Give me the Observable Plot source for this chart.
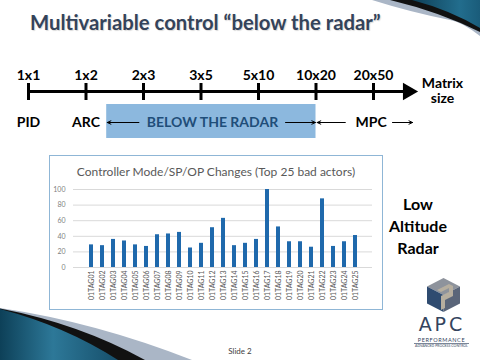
<!DOCTYPE html>
<html>
<head>
<meta charset="utf-8">
<script src="https://cdn.jsdelivr.net/npm/d3@7"></script>
<script src="https://cdn.jsdelivr.net/npm/@observablehq/plot@0.6"></script>
<style>
  html, body { margin: 0; padding: 0; background: #fff; }
  #slide { position: relative; width: 480px; height: 360px; overflow: hidden; background: #fff; font-family: Lato, "Open Sans", sans-serif; }
  .abs { position: absolute; }
</style>
</head>
<body>
<div id="slide">
  <svg class="abs" style="left:0;top:0" width="480" height="360">
    <defs>
      <linearGradient id="tealTR" x1="0" y1="0" x2="1" y2="0">
        <stop offset="0" stop-color="#0e3f57"/>
        <stop offset="0.7" stop-color="#226d8d"/>
        <stop offset="1" stop-color="#1a5c7a"/>
      </linearGradient>
      <linearGradient id="tealBL" x1="0" y1="0" x2="1" y2="0">
        <stop offset="0" stop-color="#0d4058"/>
        <stop offset="0.45" stop-color="#2d7898"/>
        <stop offset="1" stop-color="#164f6b"/>
      </linearGradient>
    </defs>
    <path d="M372,0 L480,0 L480,36 Q462,22 450,20 Q410,12 372,0 Z" fill="#aab6c6"/>
    <path d="M390,0 L480,0 L480,32 Q440,12 390,0 Z" fill="#111"/>
    <path d="M412,0 L480,0 L480,28 Q450,10 412,0 Z" fill="url(#tealTR)"/>
    <path d="M0,308 Q95,322 192,360 L0,360 Z" fill="#aab6c6"/>
    <path d="M0,308.5 Q80,324 145,360 L0,360 Z" fill="#111"/>
    <path d="M0,309 Q65,326 118,360 L0,360 Z" fill="url(#tealBL)"/>
  </svg>

  <div class="abs" id="title" style="left:30px;top:10px;font-size:20.3px;font-weight:700;color:#34435a;white-space:nowrap;text-shadow:1px 1px 1px rgba(0,0,0,0.15)">Multivariable control “below the radar”</div>

  <div class="abs" id="timeline" style="left:0;top:55px"></div>

  <div class="abs" style="left:49px;top:155px;width:334px;height:155px;box-sizing:border-box;border:1.5px solid #8fb6d6"></div>
  <div class="abs" style="left:49px;top:164px;width:334px;text-align:center;font-size:12px;color:#595959;white-space:nowrap">Controller Mode/SP/OP Changes (Top 25 bad actors)</div>
  <div class="abs" id="chart" style="left:49px;top:180px"></div>

  <div class="abs" style="left:368px;top:193px;width:100px;text-align:center;font-size:16px;font-weight:700;line-height:22px;color:#000">Low<br>Altitude<br>Radar</div>

  <svg class="abs" style="left:427px;top:278px" width="34" height="35">
    <polygon points="16.5,0 33,8.5 16.5,17 0,8.5" fill="#8e939c"/>
    <polygon points="0,8.5 16.5,17 16.5,34 0,25.5" fill="#2f4b70"/>
    <polygon points="16.5,17 33,8.5 33,25.5 16.5,34" fill="#5a6579"/>
    <path d="M10,12 L22,6 L26,8 L26,18 L18,22 L18,30 L14,32 L14,18 L22,14 L22,10 L14,14 Z" fill="#b6ae9f"/>
  </svg>
  <div class="abs" style="left:406px;top:316px;width:72px;text-align:center;font-size:19px;line-height:17px;color:#34445e;letter-spacing:3px;font-family:'DejaVu Sans',sans-serif">APC</div>
  <div class="abs" style="left:414px;top:336.5px;width:55px;text-align:center;font-size:5.5px;line-height:6px;color:#34445e;letter-spacing:0.6px;border-bottom:0.6px solid #7b8698">PERFORMANCE</div>
  <div class="abs" style="left:414px;top:344px;width:55px;text-align:center;font-size:3.5px;line-height:4px;color:#34445e;white-space:nowrap">ADVANCED PROCESS CONTROL</div>

  <div class="abs" style="left:200px;top:346px;width:80px;text-align:center;font-size:8px;color:#404040">Slide 2</div>
</div>

<script>
// ---- Data ----
const matrixSizes = ["1x1", "1x2", "2x3", "3x5", "5x10", "10x20", "20x50"];
const methods = ["PID", "ARC"];
const tags = ["01TAG01","01TAG02","01TAG03","01TAG04","01TAG05","01TAG06","01TAG07","01TAG08","01TAG09","01TAG10",
              "01TAG11","01TAG12","01TAG13","01TAG14","01TAG15","01TAG16","01TAG17","01TAG18","01TAG19","01TAG20",
              "01TAG21","01TAG22","01TAG23","01TAG24","01TAG25"];
const changes = [29, 28, 36, 34, 29, 27, 42, 43, 45, 25, 31, 51, 63, 28, 31, 36, 100, 52, 33, 33, 26, 88, 27, 33, 41];
const yTicks = [0, 20, 40, 60, 80, 100];

// ---- Timeline diagram ----
const FONT = "Lato, 'Open Sans', sans-serif";
const rowLabel = 20, rowAxis = 36, rowMethod = 67;
const timeline = Plot.plot({
  width: 480, height: 90,
  margin: 0,
  style: { fontFamily: FONT, background: "transparent", overflow: "visible" },
  x: { domain: [0, 6], range: [28, 373], axis: null },
  y: { domain: [0, 90], range: [0, 90], axis: null },
  marks: [
    Plot.rect([{ x1: 1.36, x2: 5, y1: 49, y2: 83 }], { x1: "x1", x2: "x2", y1: "y1", y2: "y2", fill: "#8cb8de" }),
    Plot.ruleY([rowAxis], { x1: 0, x2: 6.55, stroke: "#000", strokeWidth: 3 }),
    Plot.dot([6.6], { x: d => d, y: rowAxis, symbol: "triangle", rotate: 90, r: 6.5, fill: "#000", stroke: null }),
    Plot.ruleX(matrixSizes, { x: (d, i) => i, y1: 28, y2: 45, stroke: "#000", strokeWidth: 3 }),
    Plot.text(matrixSizes, { x: (d, i) => i, y: rowLabel, text: d => d, fontSize: 14, fontWeight: 700, fill: "#000" }),
    Plot.text(["Matrix", "size"], { x: 7.2, y: (d, i) => 28 + i * 15.5, text: d => d, fontSize: 14, fontWeight: 700, fill: "#000" }),
    Plot.text(methods, { x: (d, i) => i, y: rowMethod, text: d => d, fontSize: 14, fontWeight: 700, fill: "#000" }),
    Plot.text(["BELOW THE RADAR"], { x: 3.2, y: rowMethod, text: d => d, fontSize: 14, fontWeight: 700, fill: "#1f4e79" }),
    Plot.text(["MPC"], { x: 5.96, y: rowMethod, text: d => d, fontSize: 14, fontWeight: 700, fill: "#000" }),
    Plot.arrow([{ a: 1.92, b: 1.37 }, { a: 4.47, b: 4.99 }, { a: 5.51, b: 5.02 }, { a: 6.33, b: 6.68 }],
      { x1: "a", x2: "b", y1: rowMethod, y2: rowMethod, stroke: "#000", strokeWidth: 1, headLength: 6, headAngle: 50 })
  ]
});
document.getElementById("timeline").appendChild(timeline);

// ---- Bar chart ----
const rows = tags.map((t, i) => ({ tag: t, value: changes[i] }));
const chart = Plot.plot({
  width: 334, height: 125,
  marginLeft: 24, marginRight: 11, marginTop: 9, marginBottom: 38,
  style: { fontFamily: FONT, background: "transparent", overflow: "visible" },
  x: { type: "band", domain: tags, paddingInner: 0.64, paddingOuter: 0.32, label: null },
  y: { domain: [0, 100], label: null },
  marks: [
    Plot.gridY(yTicks, { stroke: "#d9d9d9", strokeOpacity: 1, strokeWidth: 1 }),
    Plot.axisY(yTicks, { tickSize: 0, tickPadding: 8, fontSize: 7, fill: "#7f7f7f", label: null }),
    Plot.barY(rows, { x: "tag", y: "value", fill: "#1f69ac" }),
    Plot.axisX({ tickRotate: -90, tickSize: 0, tickPadding: 3, fontSize: 7, fill: "#595959", label: null })
  ]
});
document.getElementById("chart").appendChild(chart);
</script>
</body>
</html>
